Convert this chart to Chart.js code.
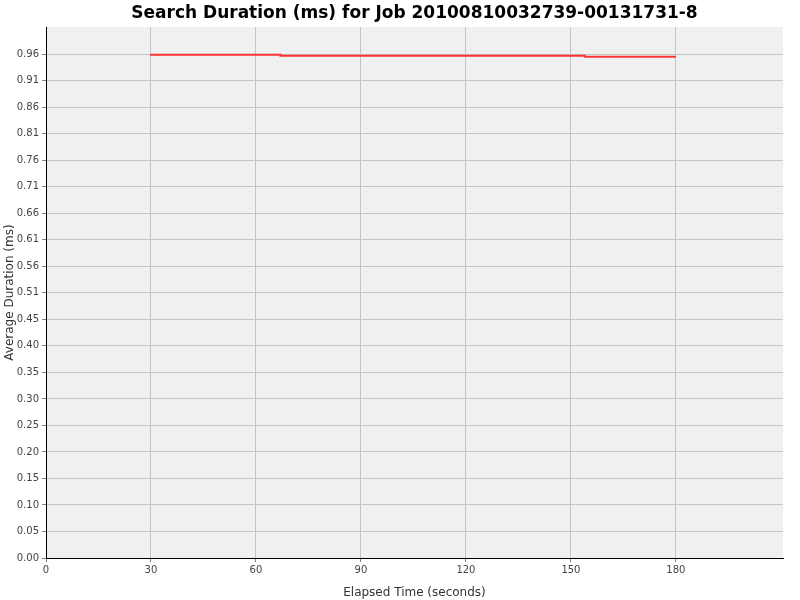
<!DOCTYPE html>
<html>
<head>
<meta charset="utf-8">
<script src="https://cdn.jsdelivr.net/npm/chart.js@4"></script>
<style>
  body { margin: 0; background: #ffffff; }
  #wrap { width: 800px; height: 600px; }
</style>
</head>
<body>
<div id="wrap"><canvas id="chart1" width="800" height="600"></canvas></div>
<script>
// Elapsed time (seconds) where the average changes, and the average (ms)
const elapsed = [30, 67, 154, 169, 180];
const avgDuration = [0.9604, 0.9585, 0.9568, 0.9549, 0.9549];

// Tick values
const xTicks = [0, 30, 60, 90, 120, 150, 180];
const yTicks = [0, 0.0505, 0.101, 0.1515, 0.202, 0.2525, 0.303, 0.3535, 0.404, 0.4545,
                0.505, 0.5555, 0.606, 0.6565, 0.707, 0.7575, 0.808, 0.8585, 0.909, 0.9595];

const points = elapsed.map((t, i) => ({ x: t, y: avgDuration[i] }));

// paint the grey plot background
const plotBg = {
    id: 'plotBg',
    beforeDraw(chart) {
        const a = chart.chartArea;
        const c = chart.ctx;
        c.save();
        c.fillStyle = '#f0f0f0';
        c.fillRect(a.left, a.top, a.right - a.left, a.bottom - a.top);
        c.restore();
    }
};

const ctx = document.getElementById('chart1').getContext('2d');
const myChart = new Chart(ctx, {
    type: 'line',
    data: {
        datasets: [{
            label: 'Average Duration',
            data: points,
            borderColor: '#ff3333',
            borderWidth: 2,
            stepped: 'after',
            pointRadius: 0,
            fill: false
        }]
    },
    options: {
        responsive: false,
        animation: false,
        devicePixelRatio: 1,
        layout: { padding: { left: 0, right: 17, top: 0, bottom: 0 } },
        plugins: {
            legend: { display: false },
            tooltip: { enabled: false },
            title: {
                display: true,
                fullSize: false,
                text: 'Search Duration (ms) for Job 20100810032739-00131731-8',
                color: '#000000',
                font: { family: 'DejaVu Sans', size: 17, weight: 'bold' },
                padding: { top: 3, bottom: 3.6 }
            }
        },
        scales: {
            x: {
                type: 'linear',
                min: 0,
                max: 210.6,
                afterBuildTicks: (scale) => { scale.ticks = xTicks.map(v => ({ value: v })); },
                afterFit: (scale) => { scale.height = 42; },
                ticks: {
                    color: '#444444',
                    font: { family: 'DejaVu Sans', size: 10 },
                    padding: 2,
                    maxRotation: 0
                },
                grid: { color: '#c4c4c4', tickColor: '#808080', tickLength: 4 },
                border: { color: '#000000', width: 1 },
                title: {
                    display: true,
                    text: 'Elapsed Time (seconds)',
                    color: '#333333',
                    font: { family: 'DejaVu Sans', size: 12 },
                    padding: { top: 8, bottom: 0 }
                }
            },
            y: {
                type: 'linear',
                min: 0,
                max: 1.0114,
                afterBuildTicks: (scale) => { scale.ticks = yTicks.map(v => ({ value: v })); },
                afterFit: (scale) => { scale.width = 46; },
                ticks: {
                    color: '#444444',
                    font: { family: 'DejaVu Sans', size: 10 },
                    padding: 3,
                    callback: (v) => Number(v).toFixed(2)
                },
                grid: { color: '#c4c4c4', tickColor: '#808080', tickLength: 4 },
                border: { color: '#000000', width: 1 },
                title: {
                    display: true,
                    text: 'Average Duration (ms)',
                    color: '#333333',
                    font: { family: 'DejaVu Sans', size: 12 },
                    padding: { top: 3, bottom: 0 }
                }
            }
        }
    },
    plugins: [plotBg]
});
</script>
</body>
</html>
